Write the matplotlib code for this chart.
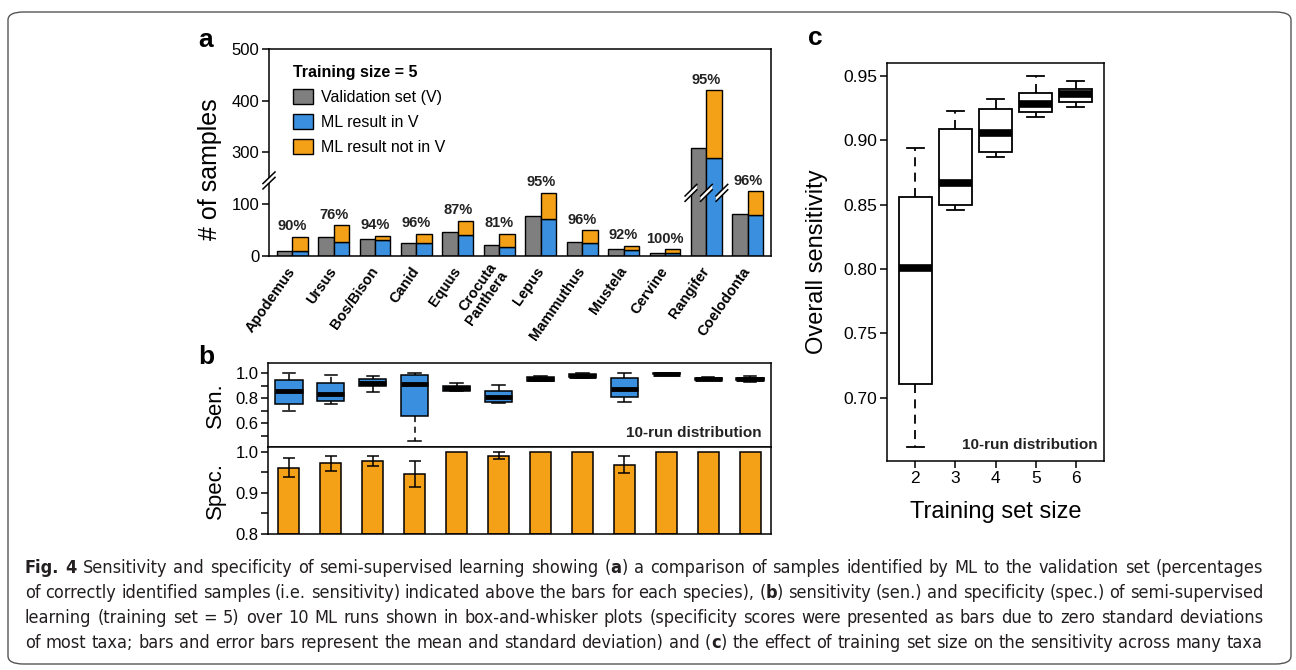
import numpy as np
import matplotlib
matplotlib.use("Agg")
import matplotlib.pyplot as plt
from matplotlib import font_manager
from matplotlib.patches import Patch, FancyBboxPatch, Polygon
from matplotlib.lines import Line2D
from matplotlib.transforms import blended_transform_factory

plt.rcParams['font.family'] = ['Liberation Sans', 'DejaVu Sans']
plt.rcParams['axes.linewidth'] = 1.1
plt.rcParams['xtick.major.width'] = 1.1
plt.rcParams['ytick.major.width'] = 1.1
plt.rcParams['xtick.major.size'] = 5
plt.rcParams['ytick.major.size'] = 5

# ---- data ----
taxa = ["Apodemus", "Ursus", "Bos/Bison", "Canid", "Equus", "Crocuta\nPanthera",
        "Lepus", "Mammuthus", "Mustela", "Cervine", "Rangifer", "Coelodonta"]
valid_n = [10, 37, 33, 26, 46, 21, 77, 27, 13, 5, 308, 82]
ml_in_v = [9, 28, 31, 25, 40, 17, 71, 25, 12, 5, 290, 79]
ml_total = [37, 59, 39, 43, 68, 43, 122, 50, 20, 13, 420, 125]
pct_labels = ["90%", "76%", "94%", "96%", "87%", "81%", "95%", "96%", "92%", "100%", "95%", "96%"]

sen_whislo = [0.70, 0.75, 0.85, 0.46, 0.855, 0.76, 0.935, 0.962, 0.77, 0.985, 0.945, 0.927]
sen_q1     = [0.75, 0.78, 0.893, 0.66, 0.86, 0.765, 0.94, 0.965, 0.807, 0.99, 0.948, 0.945]
sen_med    = [0.86, 0.835, 0.923, 0.91, 0.88, 0.81, 0.955, 0.98, 0.875, 0.996, 0.955, 0.955]
sen_q3     = [0.947, 0.917, 0.955, 0.985, 0.898, 0.858, 0.97, 0.995, 0.961, 1.0, 0.962, 0.962]
sen_whishi = [1.0, 0.981, 0.976, 1.0, 0.919, 0.906, 0.974, 1.0, 1.0, 1.0, 0.965, 0.974]

spec_mean = [0.962, 0.972, 0.977, 0.947, 1.0, 0.991, 1.0, 1.0, 0.969, 1.0, 1.0, 1.0]
spec_sd   = [0.023, 0.018, 0.012, 0.032, 0.0, 0.009, 0.0, 0.0, 0.02, 0.0, 0.0, 0.0]

train_sizes = [2, 3, 4, 5, 6]
c_whislo = [0.662, 0.846, 0.887, 0.918, 0.926]
c_q1     = [0.711, 0.850, 0.891, 0.922, 0.930]
c_med    = [0.801, 0.867, 0.906, 0.928, 0.936]
c_q3     = [0.856, 0.909, 0.924, 0.937, 0.940]
c_whishi = [0.894, 0.923, 0.932, 0.950, 0.946]

GREY, BLUE, ORANGE = "#7f7f7f", "#3a8fde", "#f4a118"

W, H = 1296, 670
fig = plt.figure(figsize=(W / 100, H / 100), dpi=100)


def px_axes(x0, y0, x1, y1):
    return fig.add_axes([x0 / W, 1 - y1 / H, (x1 - x0) / W, (y1 - y0) / H])


def slash(ax, trans, xc, yc, hw, hh, gap):
    # "//" break mark: white band between two slanted lines
    xs = [xc - hw, xc + hw]
    lo = [yc - hh - gap / 2, yc + hh - gap / 2]
    hi = [yc - hh + gap / 2, yc + hh + gap / 2]
    ax.add_patch(Polygon([(xs[0], lo[0]), (xs[1], lo[1]), (xs[1], hi[1]), (xs[0], hi[0])],
                         closed=True, facecolor="white", edgecolor="none",
                         transform=trans, clip_on=False, zorder=5))
    for yy in (lo, hi):
        ax.add_line(Line2D(xs, yy, color="black", lw=1.1, transform=trans,
                           clip_on=False, zorder=6))


# outer rounded frame
fig.patches.append(FancyBboxPatch((8 / W, 1 - 664 / H), 1283 / W, 652 / H,
                                  boxstyle="round,pad=0,rounding_size=0.012",
                                  transform=fig.transFigure, facecolor="none",
                                  edgecolor="#555555", lw=1.0))

# ---------------- panel a ----------------
ax_a = px_axes(269, 49, 771, 256)
fwd_pts = [-1000, 0, 145, 255, 2000]
inv_pts = [-1000, 0, 145, 155, 1900]
ax_a.set_yscale("function", functions=(lambda v: np.interp(v, fwd_pts, inv_pts),
                                        lambda v: np.interp(v, inv_pts, fwd_pts)))
pitch = 2.68
gx = np.arange(len(taxa)) * pitch
ax_a.bar(gx + 0.5, valid_n, width=1, color=GREY, edgecolor="black", lw=1.0, zorder=2)
ax_a.bar(gx + 1.5, ml_in_v, width=1, color=BLUE, edgecolor="black", lw=1.0, zorder=2)
ax_a.bar(gx + 1.5, np.array(ml_total) - np.array(ml_in_v), bottom=ml_in_v, width=1,
         color=ORANGE, edgecolor="black", lw=1.0, zorder=2)
for x, top, lab in zip(gx + 1, ml_total, pct_labels):
    ax_a.annotate(lab, (x, top), xytext=(0, 2.5), textcoords="offset points",
                  ha="center", va="bottom", fontsize=10.5, fontweight="bold", color="#222222")
ax_a.set_xlim(-0.5, (len(taxa) - 1) * pitch + 2.5)
ax_a.set_ylim(0, 500)
ax_a.set_yticks([0, 100, 300, 400, 500])
ax_a.yaxis.set_minor_locator(matplotlib.ticker.NullLocator())
ax_a.tick_params(axis="y", labelsize=12, pad=2)
ax_a.set_xticks(gx + 1)
ax_a.set_xticklabels(taxa, rotation=55, ha="right", va="center", rotation_mode="anchor",
                     fontsize=10.5, fontweight="bold", linespacing=0.95)
ax_a.tick_params(axis="x", length=0, pad=9)
ax_a.set_ylabel("# of samples", fontsize=18)
ax_a.yaxis.set_label_coords(-0.093, 0.42)

# axis break on left spine and on the Rangifer bars
slash(ax_a, ax_a.transAxes, 0.0, 0.365, 0.012, 0.028, 0.026)
bt = blended_transform_factory(ax_a.transData, ax_a.transAxes)
for xb in gx[10] + np.array([0.0, 1.0, 2.0]):
    slash(ax_a, bt, xb, 0.305, 0.38, 0.028, 0.026)

leg = ax_a.legend(handles=[Patch(facecolor=GREY, edgecolor="black", label="Validation set (V)"),
                           Patch(facecolor=BLUE, edgecolor="black", label="ML result in V"),
                           Patch(facecolor=ORANGE, edgecolor="black", label="ML result not in V")],
                  title="Training size = 5", loc="upper left", bbox_to_anchor=(0.025, 0.975),
                  frameon=False, fontsize=11.5, handlelength=1.3, handleheight=1.1,
                  handletextpad=0.5, labelspacing=0.55, borderpad=0.2, alignment="left",
                  title_fontproperties={"weight": "bold", "size": 11.5})

fig.text(206 / W, 1 - 40 / H, "a", fontsize=19, fontweight="bold", ha="center", va="center")

# ---------------- panel b ----------------
pos = np.arange(1, len(taxa) + 1)
ax_s = px_axes(268, 363, 771, 447)
sen_stats = [dict(med=m, q1=a, q3=b, whislo=lo, whishi=hi, fliers=[])
             for lo, a, m, b, hi in zip(sen_whislo, sen_q1, sen_med, sen_q3, sen_whishi)]
ax_s.bxp(sen_stats, positions=pos, widths=0.65, patch_artist=True, showfliers=False,
         capwidths=0.3,
         boxprops=dict(facecolor=BLUE, edgecolor="black", linewidth=1.1),
         medianprops=dict(color="black", linewidth=3.5, solid_capstyle="butt"),
         whiskerprops=dict(color="black", linewidth=1.1, linestyle=(0, (4, 3))),
         capprops=dict(color="black", linewidth=1.1))
ax_s.set_xlim(0.5, len(taxa) + 0.5)
ax_s.set_ylim(0.408, 1.08)
ax_s.set_yticks([0.5, 0.6, 0.7, 0.8, 0.9, 1.0])
ax_s.set_yticklabels(["", "0.6", "", "0.8", "", "1.0"])
ax_s.tick_params(axis="y", labelsize=12, pad=2)
ax_s.set_xticks([])
ax_s.set_ylabel("Sen.", fontsize=16)
ax_s.yaxis.set_label_coords(-0.083, 0.5)
ax_s.text(0.982, 0.17, "10-run distribution", transform=ax_s.transAxes, ha="right",
          va="center", fontsize=11, fontweight="bold", color="#222222")

ax_p = px_axes(268, 447, 771, 534)
ax_p.bar(pos, np.array(spec_mean) - 0.8, bottom=0.8, width=0.5, color=ORANGE,
         edgecolor="black", lw=1.1)
sd = np.array(spec_sd)
m = sd > 0
ax_p.errorbar(pos[m], np.array(spec_mean)[m], yerr=sd[m], fmt="none", ecolor="black",
              elinewidth=1.1, capsize=4.5, capthick=1.1)
ax_p.set_xlim(0.5, len(taxa) + 0.5)
ax_p.set_ylim(0.8, 1.012)
ax_p.set_yticks([0.8, 0.85, 0.9, 0.95, 1.0])
ax_p.set_yticklabels(["0.8", "", "0.9", "", "1.0"])
ax_p.tick_params(axis="y", labelsize=12, pad=2)
ax_p.set_xticks([])
ax_p.set_ylabel("Spec.", fontsize=16)
ax_p.yaxis.set_label_coords(-0.083, 0.5)

fig.text(206 / W, 1 - 357 / H, "b", fontsize=19, fontweight="bold", ha="center", va="center")

# ---------------- panel c ----------------
ax_c = px_axes(887, 63, 1104, 461)
c_stats = [dict(med=m_, q1=a, q3=b, whislo=lo, whishi=hi, fliers=[])
           for lo, a, m_, b, hi in zip(c_whislo, c_q1, c_med, c_q3, c_whishi)]
ax_c.bxp(c_stats, positions=train_sizes, widths=0.82, patch_artist=True, showfliers=False,
         capwidths=0.42,
         boxprops=dict(facecolor="white", edgecolor="black", linewidth=1.3),
         medianprops=dict(color="black", linewidth=5.5, solid_capstyle="butt"),
         whiskerprops=dict(color="black", linewidth=1.3, linestyle=(0, (5, 3.5))),
         capprops=dict(color="black", linewidth=1.3))
ax_c.set_xlim(1.3, 6.7)
ax_c.set_ylim(0.651, 0.960)
ax_c.set_yticks([0.70, 0.75, 0.80, 0.85, 0.90, 0.95])
ax_c.set_yticklabels(["0.70", "0.75", "0.80", "0.85", "0.90", "0.95"])
ax_c.set_xticks(train_sizes)
ax_c.set_xticklabels([str(t) for t in train_sizes])
ax_c.tick_params(labelsize=12.5, pad=2)
ax_c.set_xlabel("Training set size", fontsize=17)
ax_c.xaxis.set_label_coords(0.5, -0.1)
ax_c.set_ylabel("Overall sensitivity", fontsize=17)
ax_c.yaxis.set_label_coords(-0.27, 0.5)
ax_c.text(0.972, 0.04, "10-run distribution", transform=ax_c.transAxes, ha="right",
          va="center", fontsize=11, fontweight="bold", color="#222222")

fig.text(815 / W, 1 - 38 / H, "c", fontsize=19, fontweight="bold", ha="center", va="center")

# ---------------- caption ----------------
cap_lines = [
    [("Fig. 4", True), (" Sensitivity and specificity of semi-supervised learning showing (", False),
     ("a", True), (") a comparison of samples identified by ML to the validation set (percentages", False)],
    [("of correctly identified samples (i.e. sensitivity) indicated above the bars for each species), (", False),
     ("b", True), (") sensitivity (sen.) and specificity (spec.) of semi-supervised", False)],
    [("learning (training set = 5) over 10 ML runs shown in box-and-whisker plots (specificity scores "
      "were presented as bars due to zero standard deviations", False)],
    [("of most taxa; bars and error bars represent the mean and standard deviation) and (", False),
     ("c", True), (") the effect of training set size on the sensitivity across many taxa", False)],
]
cap_y = [568, 593, 618, 643]
cap_x0, cap_x1 = 25, 1263


def caption_fonts():
    # look for an installed narrow / condensed face for the caption
    prefer = ["Liberation Sans Narrow", "DejaVu Sans Condensed", "Roboto Condensed",
              "Open Sans Condensed", "Noto Sans Condensed", "DejaVu Sans"]
    entries = font_manager.fontManager.ttflist
    for name in prefer:
        cond = [f for f in entries if f.style == "normal" and
                (f.name == name or (name.endswith("Condensed") and
                                    f.name == name.replace(" Condensed", "") and
                                    f.stretch in ("condensed", "semi-condensed", 500, 600)))]
        reg = [f for f in cond if f.weight in ("normal", "regular", "book", 400)]
        bold = [f for f in cond if f.weight in ("bold", 700)]
        if reg and bold and name != "DejaVu Sans":
            return reg[0].fname, bold[0].fname
    return None, None


reg_path, bold_path = caption_fonts()


def cap_props(bold, size):
    if reg_path:
        return font_manager.FontProperties(fname=bold_path if bold else reg_path, size=size)
    return font_manager.FontProperties(family=["Liberation Sans", "DejaVu Sans"],
                                       weight="bold" if bold else "normal", size=size)


renderer = fig.canvas.get_renderer()
probe = fig.text(0, 0, cap_lines[2][0][0], fontproperties=cap_props(False, 15))
nat_w = probe.get_window_extent(renderer).width
probe.remove()
cap_size = min(15.0, 15.0 * (cap_x1 - cap_x0) * 0.985 / nat_w)


def caption_line(runs, y):
    words, cur = [], []
    for txt, bold in runs:
        parts = txt.split(" ")
        for i, p in enumerate(parts):
            if i > 0 and cur:
                words.append(cur)
                cur = []
            if p:
                cur.append((p, bold))
    if cur:
        words.append(cur)
    placed, widths = [], []
    for wd in words:
        objs, wsum = [], 0.0
        for p, bold in wd:
            t = fig.text(0, 1 - y / H, p, fontproperties=cap_props(bold, cap_size),
                         va="center", color="#231f20")
            pw = t.get_window_extent(renderer).width
            objs.append((t, wsum))
            wsum += pw
        placed.append(objs)
        widths.append(wsum)
    gap = (cap_x1 - cap_x0 - sum(widths)) / max(len(words) - 1, 1)
    x = cap_x0
    for objs, wsum in zip(placed, widths):
        for t, off in objs:
            t.set_x((x + off) / W)
        x += wsum + gap


for runs, y in zip(cap_lines, cap_y):
    caption_line(runs, y)

fig.savefig("out.png", dpi=100, facecolor="white")
